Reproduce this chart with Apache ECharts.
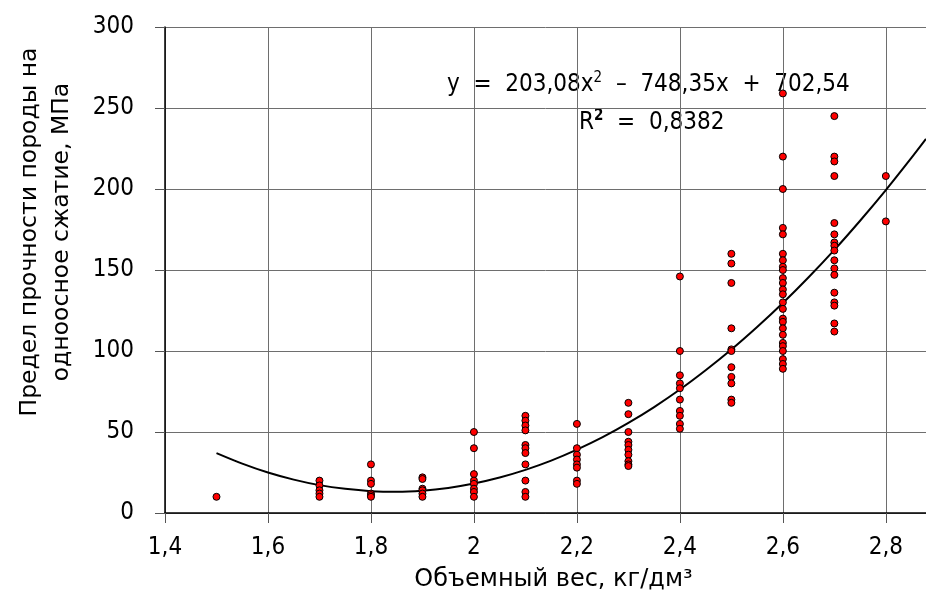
<!DOCTYPE html>
<html>
<head>
<meta charset="utf-8">
<script src="https://cdn.jsdelivr.net/npm/echarts@6/dist/echarts.min.js"></script>
<style>
  html, body { margin: 0; padding: 0; background: #fff; }
  #chart { width: 926px; height: 612px; }
</style>
</head>
<body>
<div id="chart"></div>
<script>
// объемный вес (x) и прочность (y), по группам
const densities = [1.5, 1.7, 1.8, 1.9, 2.0, 2.1, 2.2, 2.3, 2.4, 2.5, 2.6, 2.7, 2.8]
const strengths = [
    [10],
    [20, 17, 14, 12, 10],
    [30, 20, 18, 12, 11, 10],
    [22, 21, 15, 14, 12, 10],
    [50, 40, 24, 20, 18, 15, 13, 10],
    [60, 57, 54, 51, 42, 40, 37, 30, 20, 13, 10],
    [55, 40, 36, 33, 30, 28, 20, 18],
    [68, 61, 50, 44, 42, 39, 36, 32, 30, 29],
    [146, 100, 85, 80, 77, 70, 63, 60, 55, 52],
    [160, 154, 142, 114, 101, 100, 90, 84, 80, 70, 68],
    [259, 220, 200, 176, 172, 160, 156, 152, 150, 145, 142, 138, 135, 130, 126, 120, 118, 114, 110, 105, 103, 100, 95, 92, 89],
    [245, 220, 217, 208, 179, 172, 167, 165, 162, 156, 151, 147, 136, 130, 128, 117, 112],
    [208, 180]
]
// линия тренда
const trendX = [1.5, 1.55, 1.6, 1.65, 1.7, 1.75, 1.8, 1.85, 1.9, 1.95, 2.0, 2.05, 2.1, 2.15, 2.2, 2.25,
    2.3, 2.35, 2.4, 2.45, 2.5, 2.55, 2.6, 2.65, 2.7, 2.75, 2.8, 2.85, 2.878]
const trendY = [37, 30.5, 25, 20.6, 17.2, 14.9, 13.5, 13.1, 13.8, 15.5, 18.2, 21.9, 26.6, 32.3, 39.1, 46.8,
    55.6, 65.4, 76.2, 88.1, 100.9, 114.8, 129.6, 145.5, 162.4, 180.4, 199.3, 219.3, 230.9]
const xTicks = [1.4, 1.6, 1.8, 2.0, 2.2, 2.4, 2.6, 2.8]
const yTicks = [0, 50, 100, 150, 200, 250, 300]

const narrow = 'DejaVu Sans Condensed'
const wide = 'DejaVu Sans'

const points = []
densities.forEach((d, i) => {
    strengths[i].forEach(v => points.push([d, v]))
})
const trend = trendX.map((x, i) => [x, trendY[i]])

const chart = echarts.init(document.getElementById('chart'))
chart.setOption({
    animation: false,
    textStyle: { fontFamily: narrow },
    grid: { left: 165, right: 0, top: 27, bottom: 99, outerBoundsMode: 'none', containLabel: false },
    xAxis: {
        type: 'value',
        min: xTicks[0],
        max: 2.878,
        interval: 0.2,
        name: 'Объемный вес, кг/дм³',
        nameLocation: 'middle',
        nameGap: 55,
        nameTextStyle: { fontSize: 24, color: '#000', fontFamily: wide, padding: [0, 0, 0, 16] },
        axisLine: { lineStyle: { color: '#000', width: 1.5 } },
        axisTick: { show: true, length: 10, lineStyle: { color: '#555' } },
        axisLabel: {
            margin: 23,
            fontSize: 24,
            color: '#000',
            showMaxLabel: false,
            formatter: v => {
                const r = Math.round(v * 5) / 5
                if (Math.abs(v - r) > 1e-6) return ''
                return String(+r.toFixed(1)).replace('.', ',')
            }
        },
        splitLine: { show: true, lineStyle: { color: '#6e6e6e', width: 1 } }
    },
    yAxis: {
        type: 'value',
        min: yTicks[0],
        max: yTicks[yTicks.length - 1],
        interval: 50,
        axisLine: { show: true, lineStyle: { color: '#000', width: 1.5 } },
        axisTick: { show: true, length: 10, lineStyle: { color: '#555' } },
        axisLabel: { margin: 31, fontSize: 24, color: '#000' },
        splitLine: { show: true, lineStyle: { color: '#6e6e6e', width: 1 } }
    },
    graphic: [
        {
            // подпись оси Y (сдвинута вверх, как в оригинале)
            type: 'text',
            x: 46,
            y: 232,
            rotation: Math.PI / 2,
            style: {
                text: 'Предел прочности породы на\nодноосное сжатие, МПа',
                fontSize: 23.5,
                fontFamily: wide,
                lineHeight: 32,
                fill: '#000',
                align: 'center',
                verticalAlign: 'middle'
            }
        },
        {
            type: 'text',
            left: 447,
            top: 71,
            z: 0,
            style: {
                text: '{n|y  =  203,08x}{s|2}{n|  –  748,35x  +  702,54}',
                rich: {
                    n: { fontSize: 24, fontFamily: narrow, fill: '#000' },
                    s: { fontSize: 15, fontFamily: narrow, fill: '#000', padding: [0, 0, 13, 0] }
                }
            }
        },
        {
            type: 'text',
            left: 579,
            top: 109,
            z: 0,
            style: {
                text: '{n|R}{s|2}{n|  =  0,8382}',
                rich: {
                    n: { fontSize: 24, fontFamily: narrow, fill: '#000' },
                    s: { fontSize: 15, fontWeight: 'bold', fontFamily: narrow, fill: '#000', padding: [0, 0, 13, 0] }
                }
            }
        }
    ],
    series: [
        {
            type: 'line',
            data: trend,
            smooth: 0.3,
            showSymbol: false,
            z: 2,
            lineStyle: { color: '#000', width: 2 }
        },
        {
            type: 'scatter',
            data: points,
            symbolSize: 7,
            z: 3,
            itemStyle: { color: '#ff0000', borderColor: '#000', borderWidth: 1, opacity: 1 }
        }
    ]
})
</script>
</body>
</html>
